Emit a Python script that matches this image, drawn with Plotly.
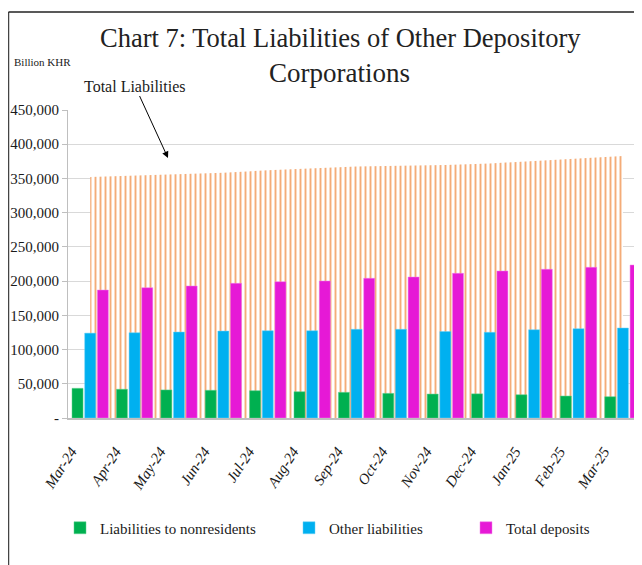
import plotly.graph_objects as go

# Data (Billion KHR)
months = ["Mar-24", "Apr-24", "May-24", "Jun-24", "Jul-24", "Aug-24", "Sep-24",
          "Oct-24", "Nov-24", "Dec-24", "Jan-25", "Feb-25", "Mar-25"]
total_liabilities = [352100, 353900, 355800, 358200, 361900, 364500, 367300,
                     368500, 369600, 371800, 375500, 379100, 382800]
nonresidents = [43400, 42000, 41000, 40500, 39900, 38400, 37500,
                36000, 35000, 35300, 34000, 32100, 31100]
other_liabilities = [124000, 124600, 125600, 127000, 127500, 127500, 129600,
                     129600, 126300, 125200, 129000, 130500, 131500]
total_deposits = [187000, 190400, 192900, 196800, 199200, 200200, 204100,
                  206000, 211400, 214800, 217300, 220200, 223500]
y_ticks = [0, 50000, 100000, 150000, 200000, 250000, 300000, 350000, 400000, 450000]
y_ticktext = ["-"] + [f"{v:,}" for v in y_ticks[1:]]
x_ticktext = [f"<i>{m}</i>" for m in months]

# page has an 8px body margin, so the figure is a bit smaller than the window
W, H = 634, 557
L, R, T, B = 60, 0, 102, 147
FONT = "Liberation Serif"
TXT = "#1a1a1a"

# screen pixel -> paper helpers for decorations
pw, ph = W - L - R, H - T - B
def px(x):
    return (x - 8 - L) / pw
def py(y):
    return (H - B - (y - 8)) / ph

x_range = [-0.5, 12.43]
y_range = [0, 450000]

fig = go.Figure()

# Total liabilities: patterned area, on the base axes so it sits behind the bars
fig.add_trace(go.Scatter(
    x=months, y=total_liabilities, mode="lines", fill="tozeroy",
    line=dict(width=0, color="#F4B183"),
    fillcolor="white",
    fillpattern=dict(shape="|", fgcolor="#F4AC78", fgopacity=1, bgcolor="white",
                     size=5, solidity=0.38),
    showlegend=False, hoverinfo="skip", name="Total Liabilities"))

bar_kw = dict(xaxis="x2", yaxis="y2")
fig.add_trace(go.Bar(x=months, y=nonresidents, name="Liabilities to nonresidents",
                     marker=dict(color="#00B050", line=dict(color="#5fd08f", width=0.5)),
                     legend="legend", **bar_kw))
fig.add_trace(go.Bar(x=months, y=other_liabilities, name="Other liabilities",
                     marker=dict(color="#00B0F0", line=dict(color="#6fd0f5", width=0.5)),
                     legend="legend2", **bar_kw))
fig.add_trace(go.Bar(x=months, y=total_deposits, name="Total deposits",
                     marker=dict(color="#E619D6", line=dict(color="#f080e8", width=0.5)),
                     legend="legend3", **bar_kw))

leg_font = dict(family=FONT, size=15, color=TXT)
legend_common = dict(orientation="h", yanchor="middle", xanchor="left",
                     font=leg_font, bgcolor="rgba(0,0,0,0)", itemwidth=30)

fig.update_layout(
    width=W, height=H,
    margin=dict(l=L, r=R, t=T, b=B),
    paper_bgcolor="white", plot_bgcolor="white",
    barmode="group", bargap=0.144, bargroupgap=0.13,
    xaxis=dict(type="category", range=x_range, showgrid=False,
               showline=True, linecolor="#bfbfbf", linewidth=1.5,
               ticks="", tickangle=-57, tickvals=months, ticktext=x_ticktext,
               tickfont=dict(family=FONT, size=15, color=TXT),
               ticklabelshift=-19, ticklabelstandoff=17),
    yaxis=dict(range=y_range, tickvals=y_ticks, ticktext=y_ticktext,
               showgrid=True, gridcolor="#d9d9d9", gridwidth=1.2,
               showline=True, linecolor="#bfbfbf", linewidth=1,
               ticks="outside", ticklen=5, tickcolor="#bfbfbf",
               tickfont=dict(family=FONT, size=15, color=TXT),
               zeroline=False),
    xaxis2=dict(type="category", range=x_range, overlaying="x", anchor="y2",
                visible=False),
    yaxis2=dict(range=y_range, overlaying="y", anchor="x2", visible=False),
    legend=dict(x=px(60), y=py(528), **legend_common),
    legend2=dict(x=px(289), y=py(528), **legend_common),
    legend3=dict(x=px(466), y=py(528), **legend_common),
    annotations=[
        dict(text="Chart 7: Total Liabilities of Other Depository",
             xref="paper", yref="paper", x=px(340), y=py(38),
             xanchor="center", yanchor="middle", showarrow=False,
             font=dict(family=FONT, size=26.5, color="#222222")),
        dict(text="Corporations",
             xref="paper", yref="paper", x=px(339), y=py(73),
             xanchor="center", yanchor="middle", showarrow=False,
             font=dict(family=FONT, size=27, color="#222222")),
        dict(text="Billion KHR", xref="paper", yref="paper", x=px(12), y=py(62),
             xanchor="left", yanchor="middle", showarrow=False,
             font=dict(family=FONT, size=11, color=TXT)),
        dict(text="Total Liabilities", xref="paper", yref="paper",
             x=px(168), y=py(158), ax=-33, ay=-72, showarrow=True,
             arrowhead=2, arrowsize=1.3, arrowwidth=1, arrowcolor="black",
             font=dict(family=FONT, size=16, color=TXT)),
    ],
    shapes=[
        dict(type="line", xref="paper", yref="paper", x0=px(8.5), x1=px(8.5),
             y0=py(12), y1=py(H + 8), line=dict(color="#444444", width=1.5)),
        dict(type="line", xref="paper", yref="paper", x0=px(8.5), x1=px(W + 8),
             y0=py(12), y1=py(12), line=dict(color="#222222", width=1.5)),
    ],
)

fig.write_html("out.html")
